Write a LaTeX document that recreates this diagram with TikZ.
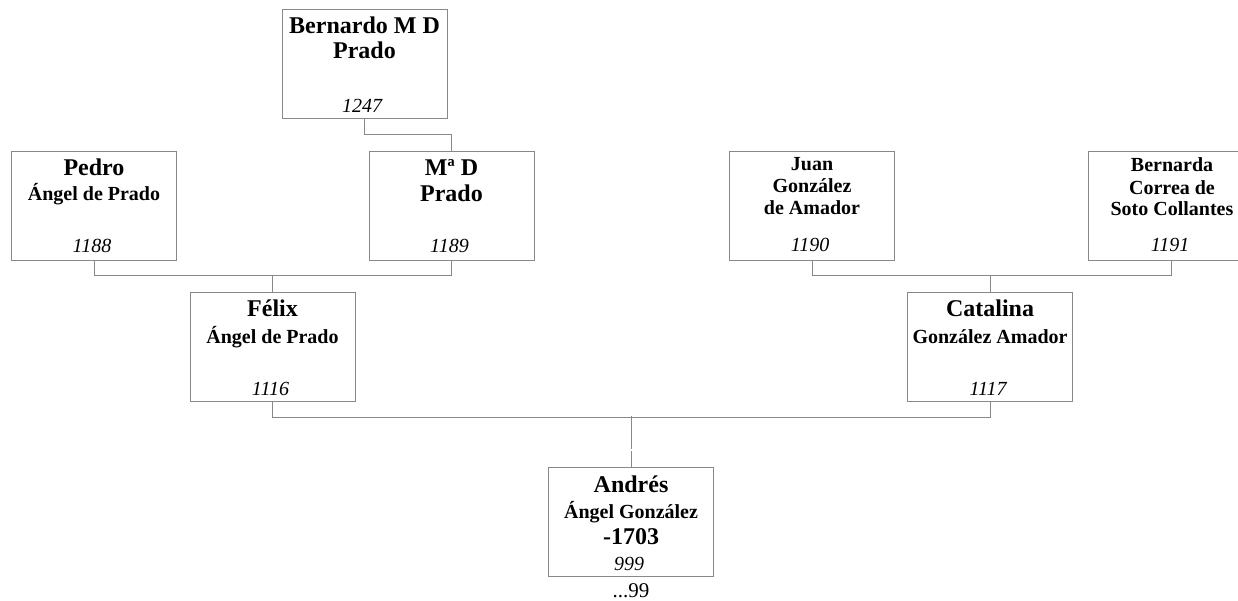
\documentclass[tikz,border=0pt]{standalone}
\usepackage{fontspec}
\setmainfont{Liberation Serif}
\definecolor{lc}{RGB}{136,136,136}
\tikzset{
  pbox/.style={draw=lc, line width=1pt, minimum width=165pt, minimum height=109pt, inner sep=0pt, fill=white},
  conn/.style={draw=lc, line width=1pt},
  big/.style={anchor=base, inner sep=0pt, font=\fontsize{24}{28}\selectfont\bfseries},
  sub/.style={anchor=base, inner sep=0pt, font=\fontsize{20}{24}\selectfont\bfseries},
  num/.style={anchor=base, inner sep=0pt, font=\fontsize{20}{24}\selectfont\itshape},
  plain/.style={anchor=base, inner sep=0pt, font=\fontsize{21}{25}\selectfont},
}
\begin{document}
\begin{tikzpicture}[x=1pt,y=-1pt]
\useasboundingbox (0,0) rectangle (1238,600);
% boxes
\node[pbox] (bern) at (364.5,63.5) {};
\node[pbox] (pedro) at (94,205.5) {};
\node[pbox] (mad) at (451.5,205.5) {};
\node[pbox] (juan) at (812,205.5) {};
\node[pbox] (bernarda) at (1171,205.5) {};
\node[pbox] (felix) at (272.5,346.5) {};
\node[pbox] (catalina) at (990,346.5) {};
\node[pbox] (andres) at (631,522) {};
% connectors
\draw[conn] (bern.south) -- ++(0,16) -| (mad.north);
\draw[conn] (pedro.south) -- ++(0,15) -| (mad.south);
\draw[conn] (felix.north) -- ++(0,-17);
\draw[conn] (juan.south) -- ++(0,15) -| (bernarda.south);
\draw[conn] (catalina.north) -- ++(0,-17);
\draw[conn] (felix.south) -- ++(0,16) -| (catalina.south);
\draw[conn, dash pattern=on 16pt off 2.5pt on 40pt] (andres.north) -- ++(0,-51);
% texts
\node[big] (t-bern1) at (364.5,33) {Bernardo M D};
\node[big] (t-bern2) at (364.5,58) {Prado};
\node[num] (t-bern3) at (362,112) {1247};
\node[big] (t-pedro1) at (94,175) {Pedro};
\node[sub] (t-pedro2) at (94,200) {Ángel de Prado};
\node[num] (t-pedro3) at (92,252) {1188};
\node[big] (t-mad1) at (451.5,175) {Mª D};
\node[big] (t-mad2) at (451.5,201) {Prado};
\node[num] (t-mad3) at (449.5,252) {1189};
\node[sub] (t-juan1) at (812,170) {Juan};
\node[sub] (t-juan2) at (812,192.5) {González};
\node[sub] (t-juan3) at (812,214) {de Amador};
\node[num] (t-juan4) at (810,251) {1190};
\node[sub] (t-bda1) at (1172,171) {Bernarda};
\node[sub] (t-bda2) at (1172,194) {Correa de};
\node[sub] (t-bda3) at (1172,215) {Soto Collantes};
\node[num] (t-bda4) at (1170,251) {1191};
\node[big] (t-felix1) at (272.5,316.5) {Félix};
\node[sub] (t-felix2) at (272.5,343) {Ángel de Prado};
\node[num] (t-felix3) at (270.5,395.5) {1116};
\node[big] (t-cat1) at (990,316) {Catalina};
\node[sub] (t-cat2) at (990,343) {González Amador};
\node[num] (t-cat3) at (988,395) {1117};
\node[big] (t-and1) at (631,492) {Andrés};
\node[sub] (t-and2) at (631,518.5) {Ángel González};
\node[big] (t-and3) at (631,544) {-1703};
\node[num] (t-and4) at (629,570) {999};
\node[plain] (t-and5) at (631,597) {...99};
\end{tikzpicture}
\end{document}
